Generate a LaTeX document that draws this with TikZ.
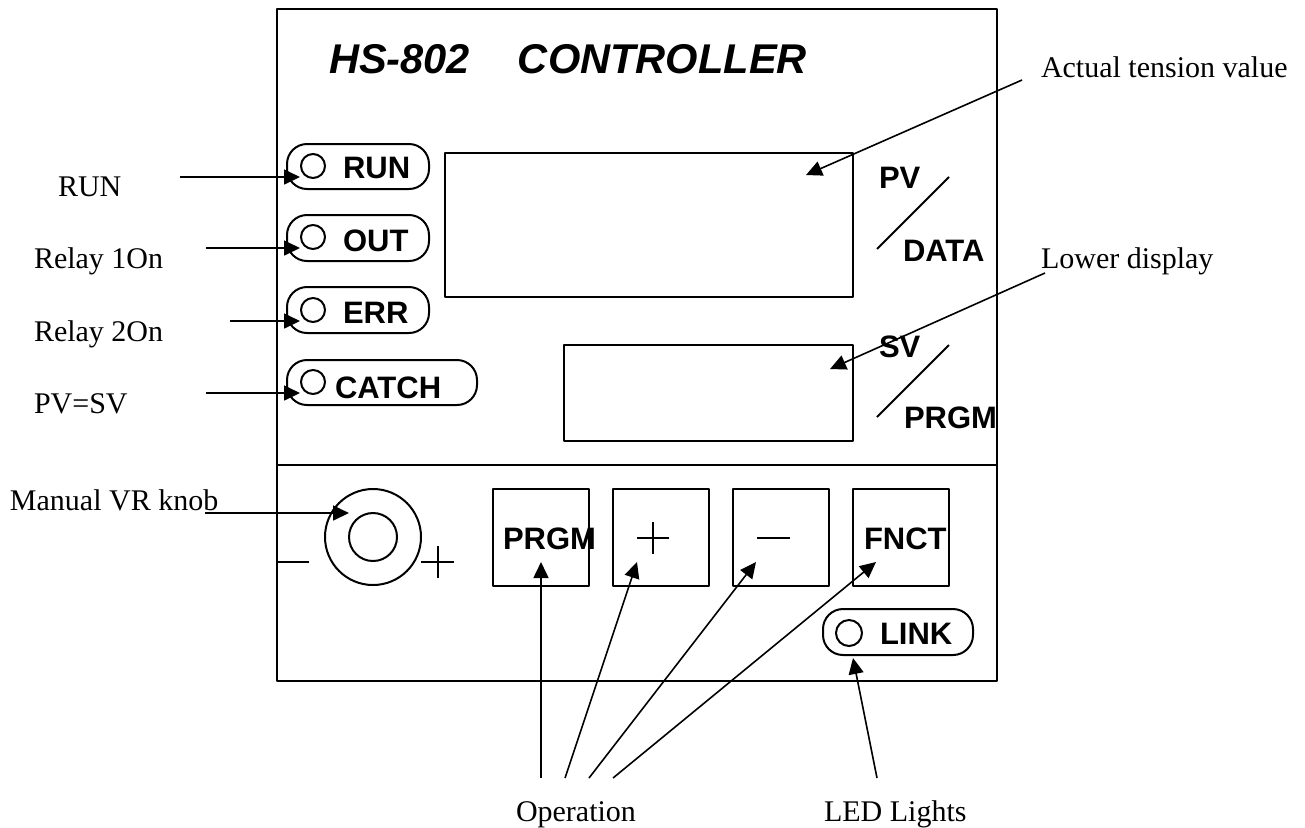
\documentclass[tikz,border=0pt]{standalone}
\usepackage{fontspec}
\setmainfont{Liberation Serif}
\newfontfamily\panelfont{Liberation Sans}
\usetikzlibrary{arrows.meta}

\begin{document}
\begin{tikzpicture}[x=0.5pt, y=-0.5pt, line join=round, line width=1pt, >={Triangle[length=8pt,width=7.5pt]},
		tag/.style={font=\fontsize{15}{18}\selectfont, anchor=base west, inner sep=0pt},
		key/.style={font=\panelfont\bfseries\fontsize{15.5}{18}\selectfont, anchor=base west, inner sep=0pt},
		pill/.style={rounded corners=10pt},
		lead/.style={->, line width=0.8pt}]
	\useasboundingbox (0,0) rectangle (1305,827);
	% Housing
	\draw (277,9) rectangle (997,681);
	\draw (277,465) -- (997,465);
	\node[key, font=\panelfont\bfseries\itshape\fontsize{20.8}{24}\selectfont] (title) at (328,73) {HS-802\hspace{24pt}CONTROLLER};
	% Displays
	\draw (445,153) rectangle (853,297);
	\draw (564,345) rectangle (853,441);
	\node[key] (pv) at (878,188) {PV};
	\draw (877,249) -- (949,177);
	\node[key] (data) at (902,261) {DATA};
	\node[key] (sv) at (878,357) {SV};
	\draw (877,417) -- (949,345);
	\node[key] (prgmR) at (903,428) {PRGM};
	% Status lamps
	\draw[pill] (287,144) rectangle (429,189);
	\draw (313,166) circle[radius=6pt];
	\node[key] (run) at (342,178) {RUN};
	\draw[pill] (287,215) rectangle (429,261);
	\draw (313,237) circle[radius=6pt];
	\node[key] (out) at (342,251) {OUT};
	\draw[pill] (287,287) rectangle (429,333);
	\draw (313,310) circle[radius=6pt];
	\node[key] (err) at (342,323) {ERR};
	\draw[pill] (287,360) rectangle (477,405);
	\draw (313,382) circle[radius=6pt];
	\node[key] (catch) at (334,398) {CATCH};
	% Knob
	\draw (373,537) circle[radius=24pt];
	\draw (373,537) circle[radius=12pt];
	\draw (278,562) -- (309,562);
	\draw (421,562) -- (454,562) (438,546) -- (438,578);
	% Keys
	\draw (493,489) rectangle (589,586);
	\node[key] (prgm) at (502,549) {PRGM};
	\draw (613,489) rectangle (709,586);
	\draw (637,538) -- (669,538) (653,522) -- (653,554);
	\draw (733,489) rectangle (829,586);
	\draw (757,538) -- (790,538);
	\draw (853,489) rectangle (949,586);
	\node[key] (fnct) at (863,549) {FNCT};
	\draw[pill] (823,609) rectangle (973,655);
	\draw (849,633) circle[radius=6.5pt];
	\node[key] (link) at (879,644) {LINK};
	% Callouts
	\node[tag] (lRun) at (57,196) {RUN};
	\node[tag] (lRelayA) at (33,268) {Relay 1On};
	\node[tag] (lRelayB) at (33,341) {Relay 2On};
	\node[tag] (lCatch) at (33,413) {PV=SV};
	\node[tag] (lKnob) at (9,510) {Manual VR knob};
	\node[tag] (lActual) at (1040,77) {Actual tension value};
	\node[tag] (lLower) at (1040,268) {Lower display};
	\node[tag] (lOper) at (515,821) {Operation};
	\node[tag] (lLed) at (823,821) {LED Lights};
	\draw[lead] (180,177) -- (300,177);
	\draw[lead] (206,248) -- (300,248);
	\draw[lead] (230,321) -- (300,321);
	\draw[lead] (206,393) -- (300,393);
	\draw[lead] (205,513) -- (349,513);
	\draw[lead] (1022,80) -- (806,175);
	\draw[lead] (1045,273) -- (830,369);
	\draw[lead] (541,778) -- (541,562);
	\draw[lead] (565,778) -- (637,562);
	\draw[lead] (589,778) -- (756,562);
	\draw[lead] (613,778) -- (876,562);
	\draw[lead] (877,778) -- (853,658);
\end{tikzpicture}
\end{document}
